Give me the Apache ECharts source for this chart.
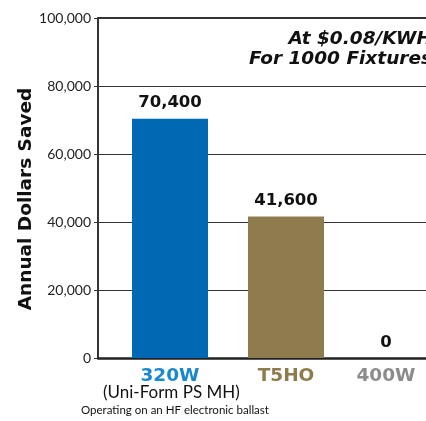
<!DOCTYPE html>
<html>
<head>
<meta charset="utf-8">
<script src="https://cdn.jsdelivr.net/npm/echarts@6/dist/echarts.min.js"></script>
<style>
  html, body { margin: 0; padding: 0; background: #fff; }
  #chart { width: 426px; height: 421px; }
</style>
</head>
<body>
<div id="chart"></div>
<script>
// Annual savings per lamp type
const categories = ['320W', 'T5HO', '400W'];
const savings = [70400, 41600, 0];
const barColors = ['#0069b4', '#8e7c4e', '#8c8c8c'];
const labelColors = ['#1888cf', '#8e7c4e', '#8c8c8c'];
const yTicks = [0, 20000, 40000, 60000, 80000, 100000];

const chart = echarts.init(document.getElementById('chart'));

const fmt = v => v.toLocaleString('en-US');

chart.setOption({
  animation: false,
  grid: [
    // frame grid: gridlines, y axis, top and bottom rules
    { left: 98, top: 18, width: 328, height: 340 },
    // bar grid: category centres sit on the grid edges
    { left: 170, top: 18, width: 232, height: 340 }
  ],
  xAxis: [
    {
      gridIndex: 0, type: 'value', min: 0, max: 1, position: 'bottom',
      axisLine: { show: true, lineStyle: { color: '#222', width: 2.5 } },
      axisTick: { show: false }, axisLabel: { show: false }, splitLine: { show: false }
    },
    {
      gridIndex: 0, type: 'value', min: 0, max: 1, position: 'top',
      axisLine: { show: true, lineStyle: { color: '#333', width: 2 } },
      axisTick: { show: false }, axisLabel: { show: false }, splitLine: { show: false }
    },
    {
      gridIndex: 1, type: 'category', data: categories, boundaryGap: false,
      axisLine: { show: false }, axisTick: { show: false }, splitLine: { show: false },
      axisLabel: {
        margin: 9,
        formatter: (v, i) => '{c' + i + '|' + v + '}',
        rich: {
          c0: { color: labelColors[0], fontFamily: 'DejaVu Sans', fontWeight: 'bold', fontSize: 18.5 },
          c1: { color: labelColors[1], fontFamily: 'DejaVu Sans', fontWeight: 'bold', fontSize: 18.5 },
          c2: { color: labelColors[2], fontFamily: 'DejaVu Sans', fontWeight: 'bold', fontSize: 18.5, padding: [0, 32, 0, 0] }
        }
      }
    }
  ],
  yAxis: [
    {
      gridIndex: 0, type: 'value', min: yTicks[0], max: yTicks[yTicks.length - 1], interval: 20000,
      axisLine: { show: true, lineStyle: { color: '#333', width: 2 } },
      axisTick: { show: true, length: 4, lineStyle: { color: '#333', width: 1 } },
      axisLabel: { formatter: fmt, fontFamily: 'Lato', fontSize: 14, color: '#222', margin: 7 },
      splitLine: { show: true, lineStyle: { color: '#333', width: 1 } }
    },
    {
      gridIndex: 1, type: 'value', min: 0, max: 100000, show: false
    }
  ],
  series: [{
    type: 'bar',
    xAxisIndex: 2, yAxisIndex: 1,
    barWidth: 76,
    clip: false,
    data: savings.map((v, i) => ({
      value: v,
      itemStyle: { color: barColors[i] },
      label: i === 2 ? { offset: [-16, 0] } : {}
    })),
    label: {
      show: true, position: 'top', distance: 7,
      formatter: p => fmt(p.value),
      fontFamily: 'DejaVu Sans', fontWeight: 'bold', fontSize: 16.5, color: '#111'
    }
  }],
  graphic: [
    {
      type: 'text', x: 26, y: 199, rotation: Math.PI / 2,
      style: { text: 'Annual Dollars Saved', fontFamily: 'DejaVu Sans', fontWeight: 'bold', fontSize: 18.5, fill: '#111', textAlign: 'center', textVerticalAlign: 'middle' }
    },
    { type: 'text', right: -6, top: 30, style: { text: 'At $0.08/KWH', fontFamily: 'DejaVu Sans', fontWeight: 'bold', fontStyle: 'italic', fontSize: 18.5, fill: '#111' } },
    { type: 'text', right: -6, top: 50, style: { text: 'For 1000 Fixtures', fontFamily: 'DejaVu Sans', fontWeight: 'bold', fontStyle: 'italic', fontSize: 18.5, fill: '#111' } },
    { type: 'text', left: 103, top: 384, style: { text: '(Uni-Form PS MH)', fontFamily: 'Lato', fontSize: 17, fill: '#111' } },
    { type: 'text', left: 81, top: 404, style: { text: 'Operating on an HF electronic ballast', fontFamily: 'Lato', fontSize: 11.5, fill: '#111' } }
  ]
});
</script>
</body>
</html>
